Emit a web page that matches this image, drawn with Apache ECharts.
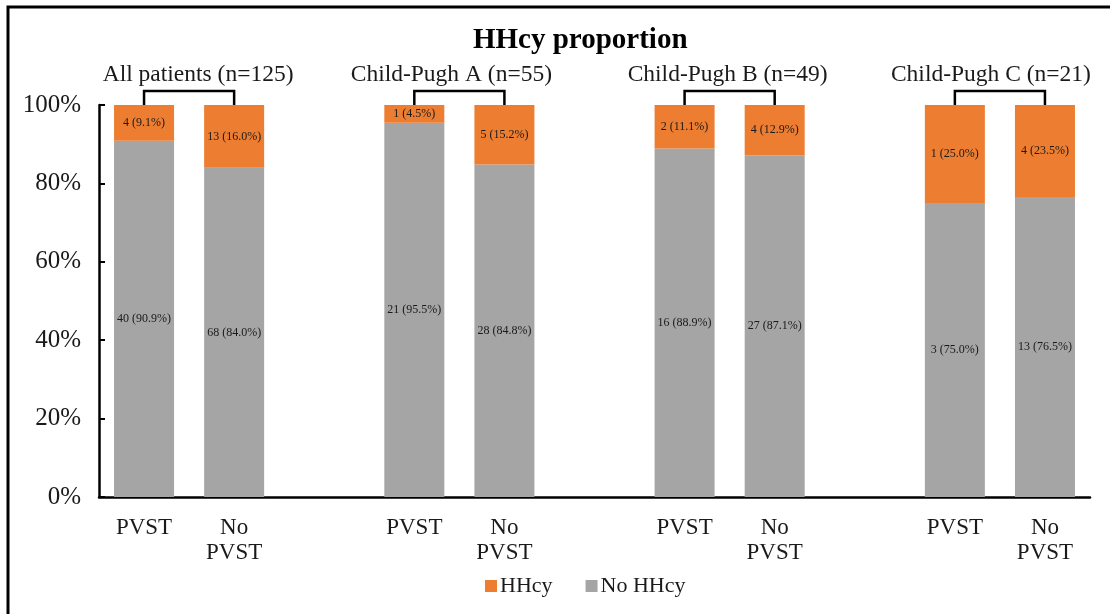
<!DOCTYPE html>
<html>
<head>
<meta charset="utf-8">
<script src="https://cdn.jsdelivr.net/npm/echarts@6/dist/echarts.min.js"></script>
<style>
  html, body { margin: 0; padding: 0; background: #fff; }
  #main { width: 1110px; height: 614px; }
</style>
</head>
<body>
<div id="main"></div>
<script>
// categories (blank entries leave the gaps between groups)
const categories = ['PVST', 'No\nPVST', '', 'PVST', 'No\nPVST', '', 'PVST', 'No\nPVST', '', 'PVST', 'No\nPVST'];
// percentages
const hhcyPct   = [9.1, 16.0, '-', 4.5, 15.2, '-', 11.1, 12.9, '-', 25.0, 23.5];
const noHhcyPct = [90.9, 84.0, '-', 95.5, 84.8, '-', 88.9, 87.1, '-', 75.0, 76.5];
// patient counts
const hhcyCount   = [4, 13, null, 1, 5, null, 2, 4, null, 1, 4];
const noHhcyCount = [40, 68, null, 21, 28, null, 16, 27, null, 3, 13];
// groups above the bars: label + the two category indices they span
const groupNames = ['All patients (n=125)', 'Child-Pugh A (n=55)', 'Child-Pugh B (n=49)', 'Child-Pugh C (n=21)'];
const groupBars = [[0, 1], [3, 4], [6, 7], [9, 10]];
const yTicks = [0, 20, 40, 60, 80, 100];

// captions in the original sit slightly off the bracket centre
const captionShift = [9, -8, -2, -9];

const FONT = 'Liberation Serif';
const chart = echarts.init(document.getElementById('main'));

const barLabel = (counts) => ({
  show: true,
  position: 'inside',
  fontFamily: FONT,
  fontSize: 12,
  color: '#1a1a1a',
  formatter: p => counts[p.dataIndex] + ' (' + Number(p.value).toFixed(1) + '%)'
});

const option = {
  animation: false,
  title: {
    text: 'HHcy proportion',
    left: 468,
    top: 21,
    textStyle: { fontFamily: FONT, fontSize: 29, fontWeight: 'bold', color: '#000' }
  },
  legend: {
    data: ['HHcy', 'No HHcy'],
    left: 480,
    top: 570,
    itemWidth: 12,
    itemHeight: 12,
    itemGap: 33,
    icon: 'rect',
    textStyle: { fontFamily: FONT, fontSize: 22, color: '#1a1a1a', padding: [0, 0, 0, -2] }
  },
  grid: { left: 99, right: 20, top: 105, bottom: 117 },
  xAxis: {
    type: 'category',
    data: categories,
    axisLine: { lineStyle: { color: '#000', width: 2.5 } },
    axisTick: { show: false },
    axisLabel: { fontFamily: FONT, fontSize: 23, lineHeight: 25, color: '#1a1a1a', margin: 18, interval: 0 }
  },
  yAxis: {
    type: 'value',
    min: yTicks[0],
    max: yTicks[yTicks.length - 1],
    interval: 20,
    splitLine: { show: false },
    axisLine: { show: true, lineStyle: { color: '#000', width: 2.5 } },
    axisTick: { show: true, inside: true, length: 6, lineStyle: { color: '#000', width: 2 } },
    axisLabel: { fontFamily: FONT, fontSize: 25, color: '#1a1a1a', margin: 18, formatter: '{value}%' }
  },
  series: [
    {
      name: 'No HHcy',
      type: 'bar',
      stack: 'all',
      barWidth: 60,
      data: noHhcyPct,
      itemStyle: { color: '#A5A5A5' },
      label: barLabel(noHhcyCount)
    },
    {
      name: 'HHcy',
      type: 'bar',
      stack: 'all',
      barWidth: 60,
      data: hhcyPct,
      itemStyle: { color: '#ED7D31' },
      label: barLabel(hhcyCount)
    },
    {
      // brackets and group captions over each pair of bars
      type: 'custom',
      silent: true,
      z: 10,
      data: groupBars.map(g => [g[0], g[1]]),
      renderItem: (params, api) => {
        const a = api.coord([api.value(0), 100]);
        const b = api.coord([api.value(1), 100]);
        const top = a[1] - 14;
        return {
          type: 'group',
          children: [
            {
              type: 'polyline',
              shape: { points: [[a[0], a[1]], [a[0], top], [b[0], top], [b[0], a[1]]] },
              style: { stroke: '#000', lineWidth: 2.5, fill: null }
            },
            {
              type: 'text',
              x: (a[0] + b[0]) / 2 + captionShift[params.dataIndex],
              y: a[1] - 30,
              style: {
                text: groupNames[params.dataIndex],
                font: '23.5px "' + FONT + '"',
                fill: '#1a1a1a',
                align: 'center',
                verticalAlign: 'middle'
              }
            }
          ]
        };
      }
    }
  ],
  graphic: [
    {
      type: 'polyline',
      shape: { points: [[8, 614], [8, 7], [1110, 7]] },
      style: { stroke: '#000', lineWidth: 3, fill: null }
    }
  ]
};

chart.setOption(option);
</script>
</body>
</html>
